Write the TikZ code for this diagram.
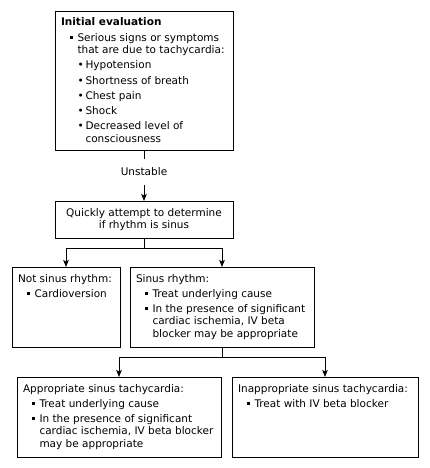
\documentclass[tikz,border=0pt]{standalone}
\usepackage{fontspec}
\setmainfont{DejaVu Sans}
\usetikzlibrary{arrows.meta}
\newcommand\mysqb{\rule[2.2pt]{3.4pt}{3.4pt}}
\newcommand\myhd[1]{\noindent\rule{0pt}{15pt}\hspace*{6pt}#1\par}
\newcommand\mysq[1]{\vspace{2.7pt}\noindent\hspace*{15pt}\makebox[7.5pt][l]{\mysqb}#1\par}
\newcommand\mysqc[1]{\noindent\hspace*{22.5pt}#1\par}
\newcommand\myrd[1]{\vspace{2.7pt}\noindent\hspace*{22.5pt}\makebox[8pt][l]{\char"2022}#1\par}
\newcommand\myrdc[1]{\noindent\hspace*{30.5pt}#1\par}
\newcommand\mybox[6]{\node[box, minimum width=#4pt, minimum height=#5pt] (#1) at (#2,#3) {\parbox[t][#5pt][t]{#4pt}{\lineskiplimit=-100pt\parindent=0pt #6}};}
\begin{document}
\begin{tikzpicture}[x=1pt,y=-1pt,
  box/.style={draw, line width=0.8pt, anchor=north west, inner sep=0pt, outer sep=0pt},
  arr/.style={line width=0.8pt, -{Stealth[length=7pt,width=5.5pt,inset=1.5pt]}},
  con/.style={line width=0.8pt},
  font=\fontsize{10.5}{12.5}\selectfont]
\useasboundingbox[fill=white] (0,0) rectangle (430,468);
\mybox{b1}{55}{11}{178}{139}{%
  \myhd{\textbf{Initial evaluation}}
  \mysq{Serious signs or symptoms}
  \mysqc{that are due to tachycardia:}
  \myrd{Hypotension}
  \myrd{Shortness of breath}
  \myrd{Chest pain}
  \myrd{Shock}
  \myrd{Decreased level of}
  \myrdc{consciousness}}
\node[inner sep=0pt, minimum height=26pt] (u) at (144,172) {Unstable};
\node[box, minimum width=178pt, minimum height=37pt, align=center] (b2) at (55,201) {Quickly attempt to determine\\if rhythm is sinus};
\mybox{b3}{12}{267}{108}{80}{%
  \myhd{Not sinus rhythm:}
  \mysq{Cardioversion}}
\mybox{b4}{130}{267}{184}{80}{%
  \myhd{Sinus rhythm:}
  \mysq{Treat underlying cause}
  \mysq{In the presence of significant}
  \mysqc{cardiac ischemia, IV beta}
  \mysqc{blocker may be appropriate}}
\mybox{b5}{17}{377}{204}{80}{%
  \myhd{Appropriate sinus tachycardia:}
  \mysq{Treat underlying cause}
  \mysq{In the presence of significant}
  \mysqc{cardiac ischemia, IV beta blocker}
  \mysqc{may be appropriate}}
\mybox{b6}{232}{377}{186}{80}{%
  \myhd{Inappropriate sinus tachycardia:}
  \mysq{Treat with IV beta blocker}}
\draw[con] (b1.south) -- (u.north);
\draw[arr] (u.south) -- (b2.north);
\draw[arr] (b2.south) -- ++(0,10) -| (b3.north);
\draw[arr] (b2.south) -- ++(0,10) -| (b4.north);
\draw[arr] (b4.south) -- ++(0,10) -| (b5.north);
\draw[arr] (b4.south) -- ++(0,10) -| (b6.north);
\end{tikzpicture}
\end{document}
